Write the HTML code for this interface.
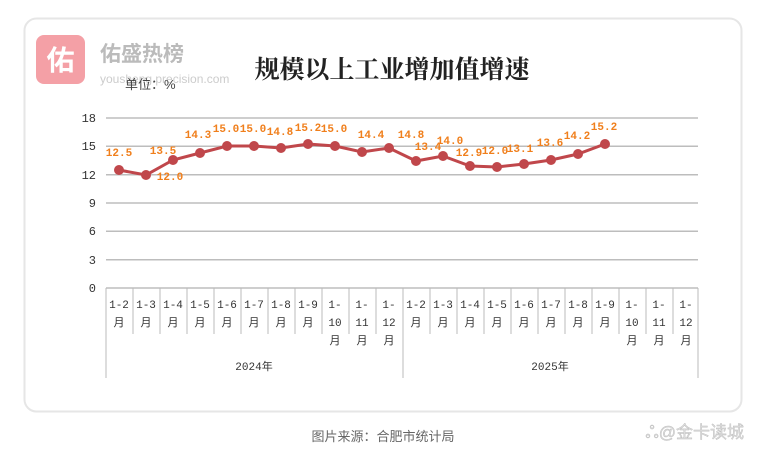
<!DOCTYPE html><html><head><meta charset="utf-8"><style>
body{margin:0;width:759px;height:459px;background:#fff;overflow:hidden;font-family:"Liberation Sans","Noto Sans CJK SC",sans-serif}
</style></head><body>
<svg width="759" height="459" xmlns="http://www.w3.org/2000/svg" font-family="Liberation Sans, Noto Sans CJK SC, sans-serif">
<rect x="24.5" y="18.5" width="717" height="393" rx="12" fill="#fff" stroke="#e6e6e6" stroke-width="2"/>
<rect x="36" y="35" width="49" height="49" rx="8" fill="#f4a0a6"/>
<text x="60.5" y="70" font-size="28" font-weight="bold" fill="#fff" text-anchor="middle">佑</text>
<text x="100" y="61" font-size="21" font-weight="bold" fill="#bbb">佑盛热榜</text>
<text x="100" y="83" font-size="12" fill="#ccc">yousheng.precision.com</text>
<text x="125" y="89" font-size="13" fill="#444">单位：%</text>
<text x="392" y="78" font-size="25" font-weight="bold" fill="#222" text-anchor="middle" font-family="Noto Serif CJK SC, serif">规模以上工业增加值增速</text>
<g stroke="#bdbdbd" stroke-width="1.5">
<line x1="106" y1="118" x2="698" y2="118"/><line x1="106" y1="146.3" x2="698" y2="146.3"/><line x1="106" y1="174.7" x2="698" y2="174.7"/><line x1="106" y1="203" x2="698" y2="203"/><line x1="106" y1="231.3" x2="698" y2="231.3"/><line x1="106" y1="259.7" x2="698" y2="259.7"/><line x1="106" y1="288" x2="698" y2="288"/>
</g>
<g font-size="12" fill="#333" text-anchor="end" font-family="Liberation Mono, monospace">
<text x="96" y="122">18</text><text x="96" y="150">15</text><text x="96" y="179">12</text><text x="96" y="207">9</text><text x="96" y="235">6</text><text x="96" y="264">3</text><text x="96" y="292">0</text>
</g>
<g stroke="#bbb" stroke-width="1">
<line x1="106" y1="288" x2="106" y2="378"/><line x1="403" y1="288" x2="403" y2="378"/><line x1="698" y1="288" x2="698" y2="378"/>
<line x1="133" y1="288" x2="133" y2="334"/><line x1="160" y1="288" x2="160" y2="334"/><line x1="187" y1="288" x2="187" y2="334"/><line x1="214" y1="288" x2="214" y2="334"/><line x1="241" y1="288" x2="241" y2="334"/><line x1="268" y1="288" x2="268" y2="334"/><line x1="295" y1="288" x2="295" y2="334"/><line x1="322" y1="288" x2="322" y2="334"/><line x1="349" y1="288" x2="349" y2="334"/><line x1="376" y1="288" x2="376" y2="334"/>
<line x1="430" y1="288" x2="430" y2="334"/><line x1="457" y1="288" x2="457" y2="334"/><line x1="484" y1="288" x2="484" y2="334"/><line x1="511" y1="288" x2="511" y2="334"/><line x1="538" y1="288" x2="538" y2="334"/><line x1="565" y1="288" x2="565" y2="334"/><line x1="592" y1="288" x2="592" y2="334"/><line x1="619" y1="288" x2="619" y2="334"/><line x1="646" y1="288" x2="646" y2="334"/><line x1="673" y1="288" x2="673" y2="334"/>
</g>
<g font-size="11" fill="#333" text-anchor="middle" font-family="Liberation Mono, Noto Sans CJK SC, monospace">
<text x="119" y="308">1-2</text><text x="119" y="326">月</text>
<text x="146" y="308">1-3</text><text x="146" y="326">月</text>
<text x="173" y="308">1-4</text><text x="173" y="326">月</text>
<text x="200" y="308">1-5</text><text x="200" y="326">月</text>
<text x="227" y="308">1-6</text><text x="227" y="326">月</text>
<text x="254" y="308">1-7</text><text x="254" y="326">月</text>
<text x="281" y="308">1-8</text><text x="281" y="326">月</text>
<text x="308" y="308">1-9</text><text x="308" y="326">月</text>
<text x="335" y="308">1-</text><text x="335" y="326">10</text><text x="335" y="344">月</text>
<text x="362" y="308">1-</text><text x="362" y="326">11</text><text x="362" y="344">月</text>
<text x="389" y="308">1-</text><text x="389" y="326">12</text><text x="389" y="344">月</text>
<text x="416" y="308">1-2</text><text x="416" y="326">月</text>
<text x="443" y="308">1-3</text><text x="443" y="326">月</text>
<text x="470" y="308">1-4</text><text x="470" y="326">月</text>
<text x="497" y="308">1-5</text><text x="497" y="326">月</text>
<text x="524" y="308">1-6</text><text x="524" y="326">月</text>
<text x="551" y="308">1-7</text><text x="551" y="326">月</text>
<text x="578" y="308">1-8</text><text x="578" y="326">月</text>
<text x="605" y="308">1-9</text><text x="605" y="326">月</text>
<text x="632" y="308">1-</text><text x="632" y="326">10</text><text x="632" y="344">月</text>
<text x="659" y="308">1-</text><text x="659" y="326">11</text><text x="659" y="344">月</text>
<text x="686" y="308">1-</text><text x="686" y="326">12</text><text x="686" y="344">月</text>
<text x="254" y="370">2024年</text><text x="550" y="370">2025年</text>
</g>
<polyline fill="none" stroke="#c0474b" stroke-width="3" points="119,170 146,175 173,160 200,153 227,146 254,146 281,148 308,144 335,146 362,152 389,148 416,161 443,156 470,166 497,167 524,164 551,160 578,154 605,144"/>
<g fill="#c0474b">
<circle cx="119" cy="170" r="5"/><circle cx="146" cy="175" r="5"/><circle cx="173" cy="160" r="5"/><circle cx="200" cy="153" r="5"/><circle cx="227" cy="146" r="5"/><circle cx="254" cy="146" r="5"/><circle cx="281" cy="148" r="5"/><circle cx="308" cy="144" r="5"/><circle cx="335" cy="146" r="5"/><circle cx="362" cy="152" r="5"/><circle cx="389" cy="148" r="5"/><circle cx="416" cy="161" r="5"/><circle cx="443" cy="156" r="5"/><circle cx="470" cy="166" r="5"/><circle cx="497" cy="167" r="5"/><circle cx="524" cy="164" r="5"/><circle cx="551" cy="160" r="5"/><circle cx="578" cy="154" r="5"/><circle cx="605" cy="144" r="5"/>
</g>
<g font-size="11" font-weight="bold" fill="#f07f1c" text-anchor="middle" font-family="Liberation Mono, monospace">
<text x="119" y="156">12.5</text><text x="163" y="154">13.5</text><text x="170" y="180">12.0</text><text x="198" y="138">14.3</text><text x="226" y="132">15.0</text><text x="253" y="132">15.0</text><text x="280" y="135">14.8</text><text x="308" y="131">15.2</text><text x="334" y="132">15.0</text><text x="371" y="138">14.4</text><text x="411" y="138">14.8</text><text x="428" y="150">13.4</text><text x="450" y="144">14.0</text><text x="469" y="156">12.9</text><text x="495" y="154">12.0</text><text x="520" y="152">13.1</text><text x="550" y="146">13.6</text><text x="577" y="139">14.2</text><text x="604" y="130">15.2</text>
</g>
<text x="383" y="441" font-size="13" fill="#666" text-anchor="middle">图片来源：合肥市统计局</text>
<text x="744" y="438" font-size="17" fill="#ddd" text-anchor="end" stroke="#bbb" stroke-width="0.4">ஃ@金卡读城</text>
</svg>
</body></html>
